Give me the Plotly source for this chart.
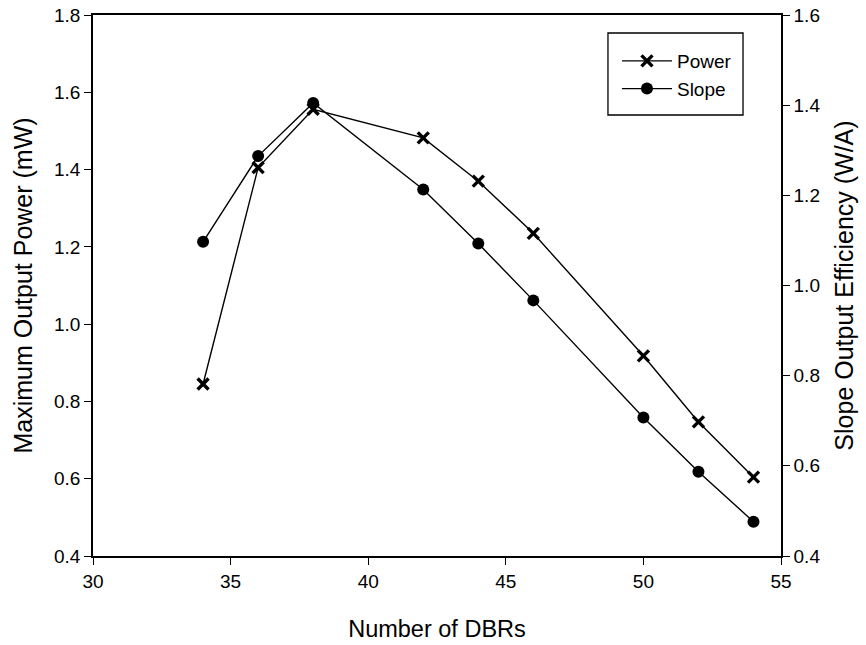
import plotly.graph_objects as go

# DBR pair count vs. maximum output power and slope efficiency
dbrs = [34, 36, 38, 42, 44, 46, 50, 52, 54]
power_mw = [0.845, 1.405, 1.556, 1.482, 1.370, 1.235, 0.918, 0.747, 0.604]
slope_wa = [1.097, 1.287, 1.405, 1.213, 1.093, 0.967, 0.707, 0.587, 0.476]

FONT = "Liberation Sans, Arial, sans-serif"
TICK_SIZE = 19
TITLE_SIZE = 25

fig = go.Figure()
fig.add_trace(go.Scatter(
    x=dbrs, y=power_mw, name="Power", mode="lines+markers",
    line=dict(color="black", width=1.4),
    marker=dict(symbol="x-thin", size=11, color="black",
                line=dict(color="black", width=3.4)),
    yaxis="y",
))
fig.add_trace(go.Scatter(
    x=dbrs, y=slope_wa, name="Slope", mode="lines+markers",
    line=dict(color="black", width=1.4),
    marker=dict(symbol="circle", size=12, color="black"),
    yaxis="y2",
))

axis_common = dict(
    showgrid=False, zeroline=False, showline=True, linecolor="black",
    linewidth=1.5, ticks="outside", ticklen=7, tickwidth=1.3,
    tickcolor="black", tickfont=dict(family=FONT, size=TICK_SIZE, color="black"),
    automargin=False,
)

fig.update_layout(
    width=866, height=645,
    margin=dict(l=93, r=85, t=15, b=89),
    plot_bgcolor="white", paper_bgcolor="white",
    font=dict(family=FONT, color="black"),
    xaxis=dict(
        range=[30, 55], dtick=5, mirror=True,
        title=dict(text="Number of DBRs", font=dict(family=FONT, size=23.5),
                   standoff=30),
        **axis_common,
    ),
    yaxis=dict(
        range=[0.4, 1.8], dtick=0.2, tickformat=".1f",
        title=dict(text="Maximum Output Power (mW)",
                   font=dict(family=FONT, size=TITLE_SIZE), standoff=14),
        **axis_common,
    ),
    yaxis2=dict(
        range=[0.4, 1.6], dtick=0.2, tickformat=".1f",
        overlaying="y", side="right",
        title=dict(text="Slope Output Efficiency (W/A)",
                   font=dict(family=FONT, size=TITLE_SIZE), standoff=16),
        **axis_common,
    ),
    legend=dict(
        x=0.7616, y=0.950, xanchor="left", yanchor="top",
        bgcolor="rgba(0,0,0,0)", borderwidth=0,
        font=dict(family=FONT, size=19, color="black"),
        itemwidth=50, tracegroupgap=0,
    ),
    # legend frame
    shapes=[dict(
        type="rect", xref="paper", yref="paper",
        x0=0.7485, x1=0.9448, y0=0.8152, y1=0.9667,
        line=dict(color="black", width=1.3), fillcolor="white", layer="below",
    )],
    showlegend=True,
)

fig.write_html("out.html")
